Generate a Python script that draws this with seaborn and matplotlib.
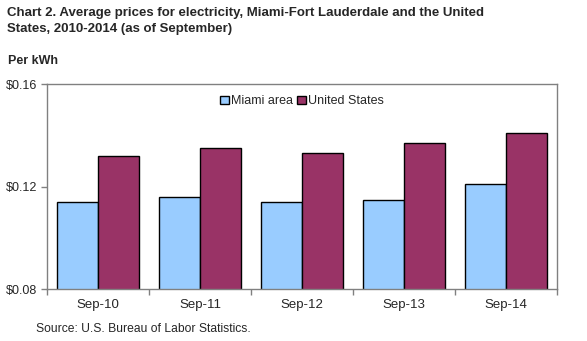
import matplotlib
matplotlib.use("Agg")
import matplotlib.pyplot as plt
import seaborn as sns
import pandas as pd
import numpy as np

categories = ["Sep-10", "Sep-11", "Sep-12", "Sep-13", "Sep-14"]
miami = [0.114, 0.116, 0.114, 0.115, 0.121]
us = [0.132, 0.135, 0.133, 0.137, 0.141]
series_names = ["Miami area", "United States"]
colors = ["#99CCFF", "#993366"]
yticks = [0.08, 0.12, 0.16]

sns.set_style("white")
plt.rcParams["font.family"] = ["Liberation Sans", "DejaVu Sans"]

df = pd.DataFrame({
    "period": categories * 2,
    "value": miami + us,
    "series": [series_names[0]] * len(categories) + [series_names[1]] * len(categories),
})

fig = plt.figure(figsize=(5.87, 3.41), dpi=100)
ax = fig.add_axes([0.080, 0.152, 0.869, 0.601])
sns.barplot(data=df, x="period", y="value", hue="series", palette=colors,
            width=0.8, edgecolor="black", linewidth=1.0, ax=ax, saturation=1)

ax.set_ylim(0.08, 0.16)
ax.set_xlim(-0.5, len(categories) - 0.5)
ax.set_yticks(yticks)
ax.set_yticklabels([f"${v:.2f}" for v in yticks], fontsize=9)
ax.set_xlabel("")
ax.set_ylabel("")
ax.tick_params(axis="x", length=0, labelsize=9.5, pad=7)
ax.tick_params(axis="y", left=True, length=4, color="#808080", width=1, pad=3)
ax.set_xticks(np.arange(-0.5, len(categories), 1.0), minor=True)
ax.tick_params(axis="x", which="minor", bottom=True, length=4, color="#808080", width=1)
for s in ax.spines.values():
    s.set_color("#808080")
    s.set_linewidth(1)

leg = ax.legend(loc="upper center", bbox_to_anchor=(0.5, 0.97), ncol=2, frameon=False,
                fontsize=9, handlelength=0.7, handleheight=0.7, handletextpad=0.2,
                columnspacing=0.3, borderaxespad=0)

fig.text(0.012, 0.98, "Chart 2. Average prices for electricity, Miami-Fort Lauderdale and the United\nStates, 2010-2014 (as of September)",
         fontsize=9.5, fontweight="bold", va="top", ha="left", linespacing=1.5)
fig.text(0.014, 0.822, "Per kWh", fontsize=9, fontweight="bold", va="center", ha="left")
fig.text(0.062, 0.036, "Source: U.S. Bureau of Labor Statistics.", fontsize=8.7, va="center", ha="left")

fig.savefig("out.png", dpi=100)
